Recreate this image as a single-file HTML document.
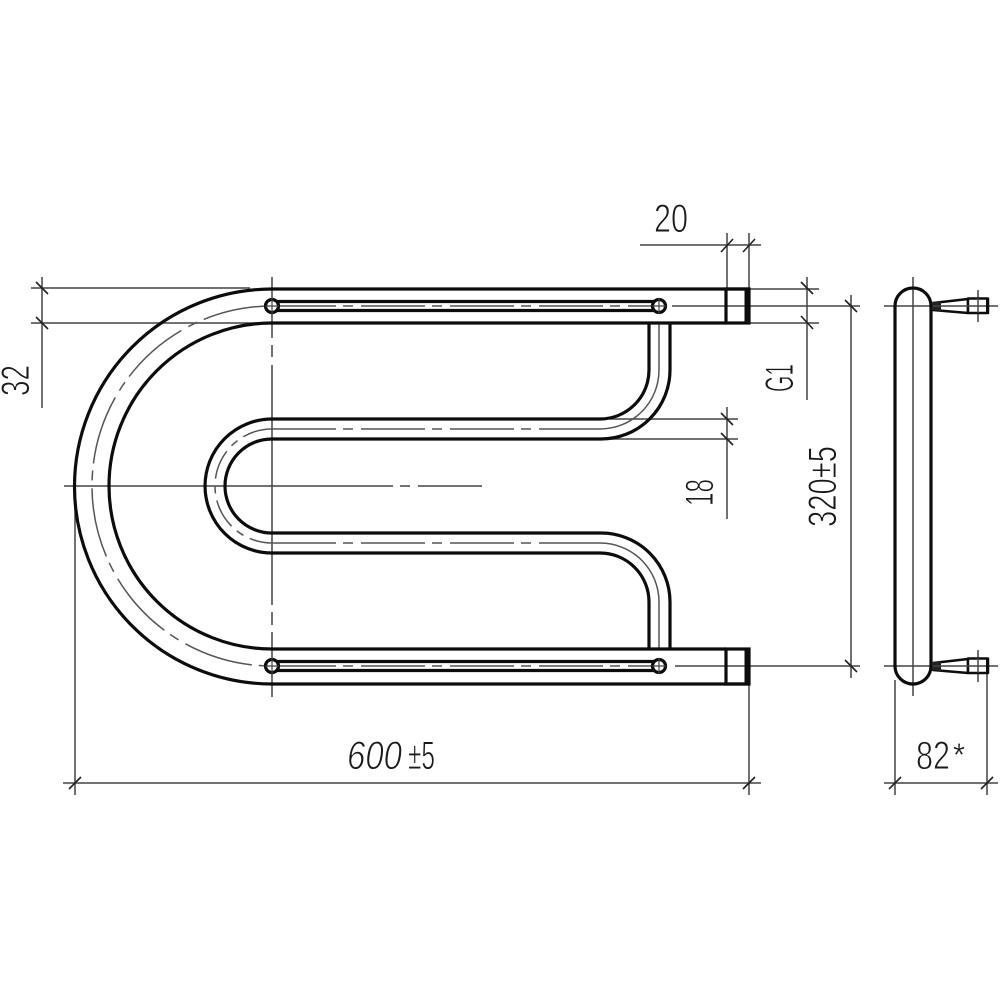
<!DOCTYPE html>
<html><head><meta charset="utf-8"><style>
html,body{margin:0;padding:0;background:#fff}
svg{display:block}
text{font-family:"Liberation Sans",sans-serif;fill:#1a1a1a;stroke:#fff;stroke-width:.9;paint-order:fill stroke;font-size:40px}
</style></head><body>
<svg width="1000" height="1000" viewBox="0 0 1000 1000" xmlns="http://www.w3.org/2000/svg">
<rect width="1000" height="1000" fill="#fff"/>
<!-- thin dimension lines -->
<g fill="none" stroke="#444" stroke-width="1.5">
<path d="M640 245H761M727 233V289M749 233V289"/>
<path d="M749 289H819M749 323H819M807 277V400"/>
<path d="M672 306H860M675 666H860M851 295V678"/>
<path d="M610 419H738M610 439H738M727 407V519"/>
<path d="M31 288H250M31 323H272M42 277V408"/>
<path d="M63 783H761M75 490V795M749 684V795"/>
<path d="M884 783H998M895 680V795M987 672V795"/>
<path d="M884 306H998M884 666H998M913 277V696M978 290V322M978 650V682"/>
<path d="M272 277V338M272 345V357M272 365V605M272 612V625M272 632V697"/>
<path d="M64 486H393M400 486H410M418 486H482"/>
</g>
<!-- ticks -->
<g fill="none" stroke="#222" stroke-width="1.6">
<path d="M721 252L733 239M743 252L755 239"/>
<path d="M801 282L813 294M801 316L813 329"/>
<path d="M845 300L857 312M845 660L857 672"/>
<path d="M721 413L733 425M721 433L733 445"/>
<path d="M36 282L48 294M36 317L48 329"/>
<path d="M69 789L81 777M743 789L755 777"/>
<path d="M889 789L901 777M981 789L993 777"/>
</g>
<!-- centre lines of tube -->
<g fill="none" stroke="#555" stroke-width="1.5">
<path d="M272 306A180 180 0 0 0 272 666" stroke-dasharray="70 7 10 8"/>
<path d="M272 429A57 57 0 0 0 272 543" stroke-dasharray="30 7 8 7"/>
<path d="M272 429H600" stroke-dasharray="64 7 10 8"/>
<path d="M272 543H600" stroke-dasharray="64 7 10 8"/>
<path d="M600 429A59 59 0 0 0 659 370V323"/>
<path d="M600 543A59 59 0 0 1 659 602V649"/>
<path d="M272 306H659" stroke-dasharray="64 7 10 8"/>
<path d="M272 666H659" stroke-dasharray="64 7 10 8"/>
</g>
<!-- tube outlines -->
<g fill="none" stroke="#0c0c0c" stroke-width="3.2">
<path d="M749 289H272A197.500 197.500 0 0 0 272 684H749"/>
<path d="M726 323H272A163 163 0 0 0 272 649H726"/>
<rect x="726" y="289" width="23" height="34"/>
<rect x="726" y="649" width="23" height="35"/>
<path d="M649 323V370A49 49 0 0 1 600 419H272A67 67 0 0 0 272 553H600A49 49 0 0 1 649 602V649"/>
<path d="M670 323V370A69 69 0 0 1 601 439H272A47 47 0 0 0 272 533H601A69 69 0 0 1 670 602V649"/>
<path d="M272 301.500H659M272 310.500H659M272 661.500H659M272 670.500H659"/>
<circle cx="272" cy="306" r="6.500" fill="#fff"/>
<circle cx="659" cy="306" r="6.500" fill="#fff"/>
<circle cx="272" cy="666" r="6.500" fill="#fff"/>
<circle cx="659" cy="666" r="6.500" fill="#fff"/>
<rect x="895" y="288" width="36" height="396" rx="18"/>
</g>
<path d="M272 298V314M265 306H279M659 298V314M652 306H666M272 658V674M265 666H279M659 658V674M652 666H666" stroke="#444" stroke-width="1.2" fill="none"/>
<path d="M747 289V323M747 649V684" stroke="#0c0c0c" stroke-width="5" fill="none"/>
<!-- fittings -->
<g fill="#fff" stroke="#0c0c0c" stroke-width="2.500" stroke-linejoin="round">
<path d="M933 303L968 299V313L933 310Z"/>
<rect x="968" y="298.500" width="20" height="14.500"/>
<path d="M933 663L968 659V673L933 670Z"/>
<rect x="968" y="658.500" width="20" height="14.500"/>
</g>
<path d="M932 302L941 301.500V311L932 310ZM932 662L941 661.500V671L932 670Z" fill="#222"/>
<path d="M933 306H988M978 298V313M933 666H988M978 658V673" stroke="#444" stroke-width="1.500" fill="none"/>
<path d="M987.500 298V313M987.500 658V673" stroke="#0c0c0c" stroke-width="3" fill="none"/>
<!-- labels -->
<text x="654" y="232" textLength="34" lengthAdjust="spacingAndGlyphs">20</text>
<text transform="translate(29 396) rotate(-90)" textLength="31" lengthAdjust="spacingAndGlyphs">32</text>
<text transform="translate(713 506) rotate(-90)" textLength="27" lengthAdjust="spacingAndGlyphs">18</text>
<text transform="translate(793 392) rotate(-90)" textLength="28" lengthAdjust="spacingAndGlyphs">G1</text>
<text transform="translate(836 527) rotate(-90)" textLength="81" lengthAdjust="spacingAndGlyphs">320±5</text>
<text x="347" y="769" textLength="55" lengthAdjust="spacingAndGlyphs" font-style="italic">600</text>
<text x="408" y="769" textLength="27" lengthAdjust="spacingAndGlyphs">±5</text>
<text x="916" y="769" textLength="34" lengthAdjust="spacingAndGlyphs">82</text>
<text x="953" y="766" textLength="12" lengthAdjust="spacingAndGlyphs" style="font-size:32px;stroke-width:.3">*</text>
</svg>
</body></html>
